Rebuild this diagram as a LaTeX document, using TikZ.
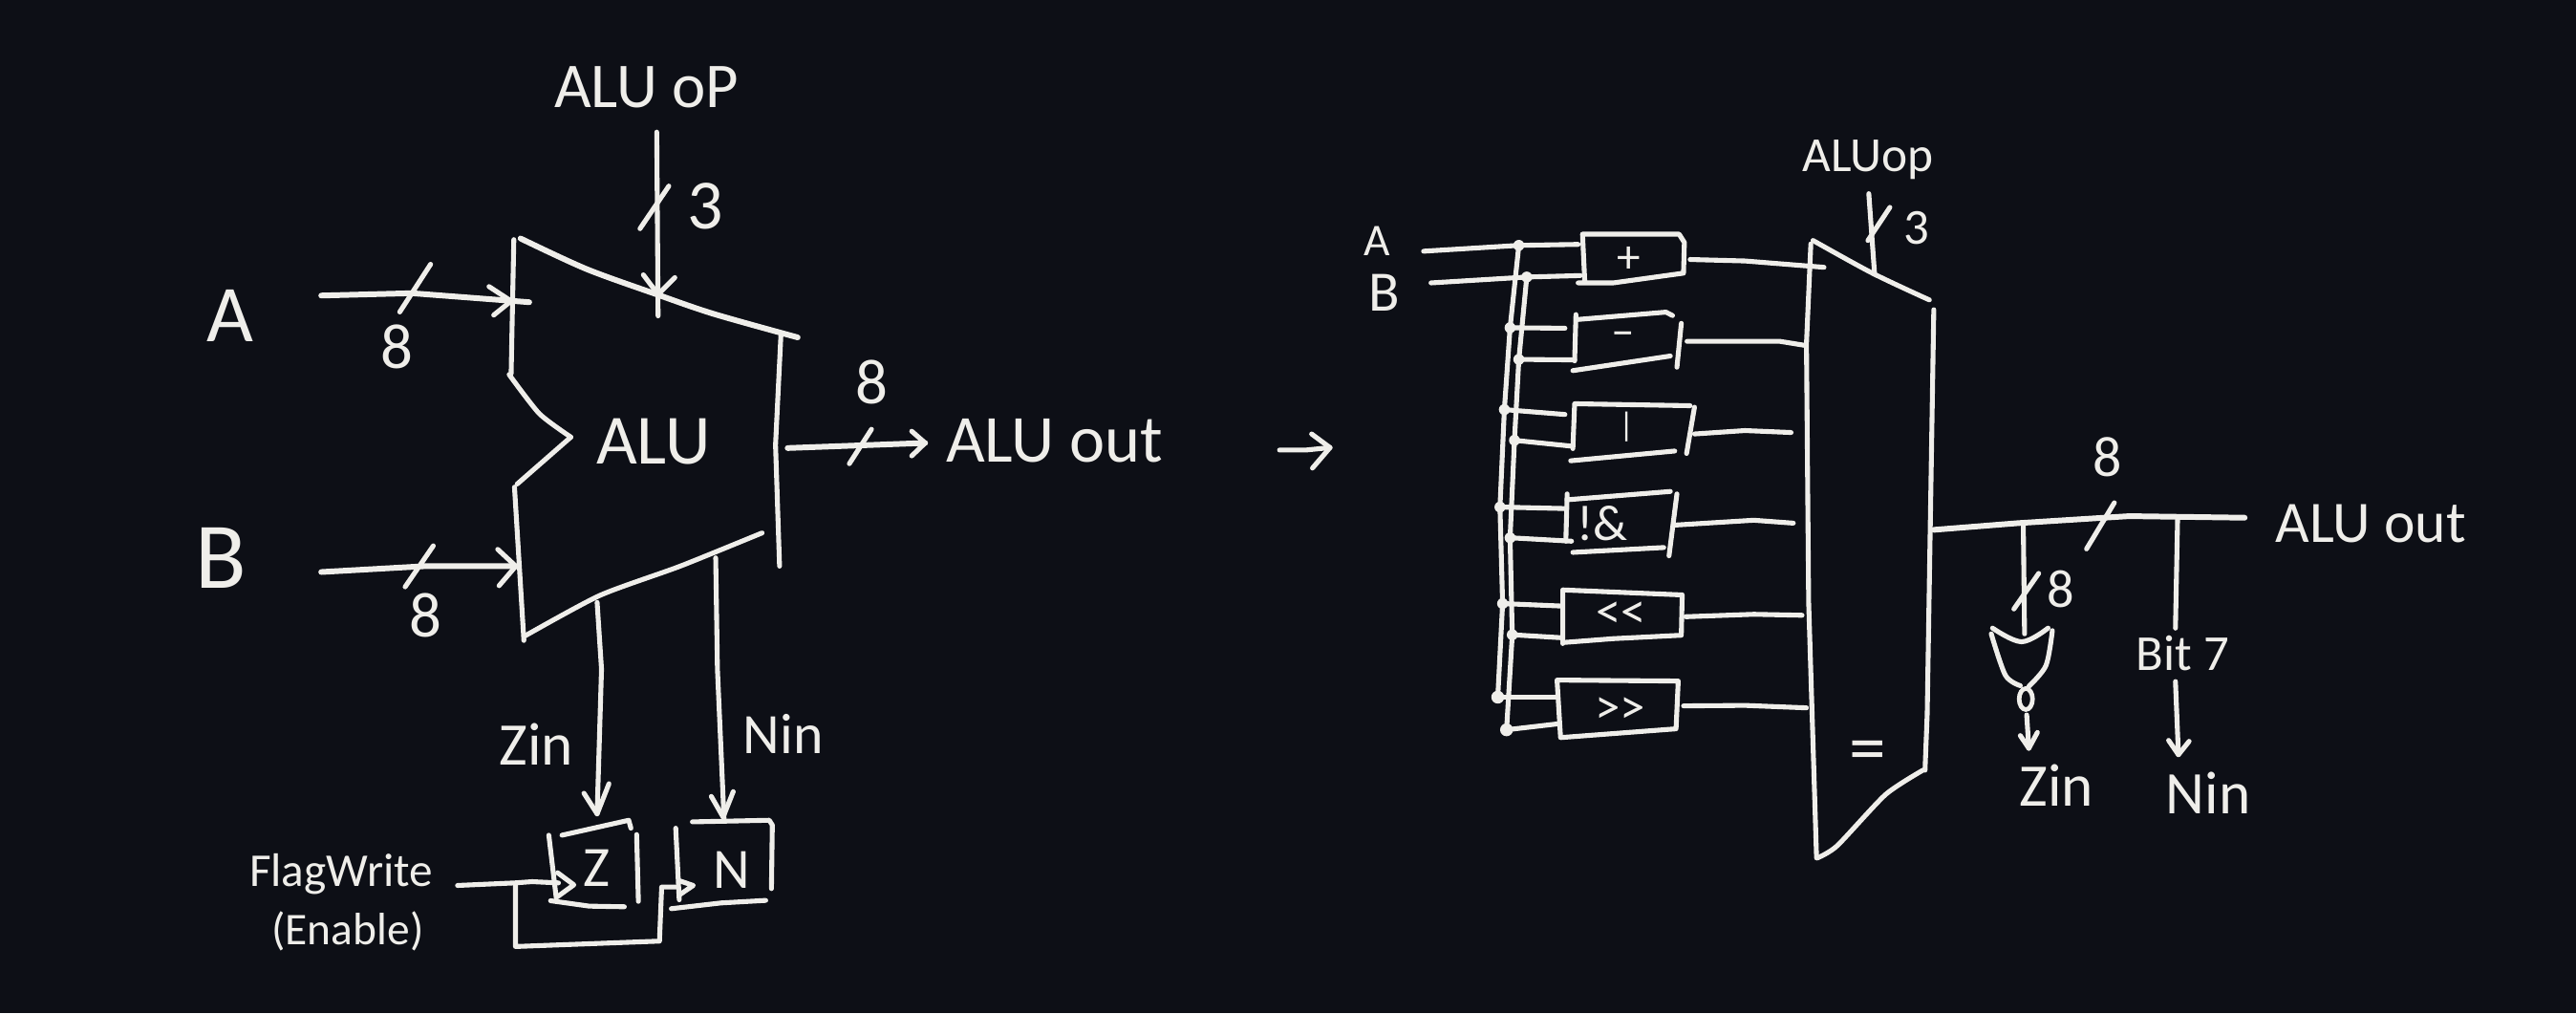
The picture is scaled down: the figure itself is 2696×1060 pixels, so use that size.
\documentclass[tikz,border=0pt]{standalone}
\usepackage{fontspec}
\usetikzlibrary{shapes.geometric}
\setmainfont{Carlito}
\definecolor{bg}{HTML}{0D0F16}
\definecolor{ink}{HTML}{EFEEEA}
\tikzset{
  pen/.style={draw=ink,line width=1.45pt,line cap=round,line join=round},
  lab/.style={text=ink,inner sep=0pt,font=\fontsize{#1}{#1}\selectfont},
  busdot/.style={circle,fill=ink,inner sep=0pt,minimum size=0.115cm},
  cropA/.style={shift={(1.5cm,-0.4cm)},x=0.007015cm,y=-0.004082cm},
  cropB/.style={shift={(1.8cm,-6cm)},x=0.004591cm,y=-0.003333cm},
  cropC/.style={shift={(13.2cm,-1.2cm)},x=0.004592cm,y=-0.005102cm},
  cropD/.style={shift={(19.5cm,-4.2cm)},x=0.004464cm,y=-0.003333cm}
}
\begin{document}
\begin{tikzpicture}[x=0.01cm,y=-0.01cm]
\useasboundingbox (0,0) rectangle (2696,1060);
\fill[bg] (0,0) rectangle (2696,1060);

% ---------- left ALU ----------
\begin{scope}[cropA]
\node[lab=24] (tA) at (130,710) {A};
\node[lab=28] (tB) at (115,1330) {B};
\node[lab=19] (t8a) at (378,790) {8};
\node[lab=19] (t8b) at (420,1475) {8};
\node[lab=19] (t8c) at (1085,880) {8};
\node[lab=19] (tOp) at (750,125) {ALU oP};
\node[lab=21] (t3) at (838,430) {3};
\node[lab=21] (tALU) at (760,1032) {ALU};
\node[lab=20] (tOut) at (1358,1030) {ALU out};
% body
\draw[pen] (552,515) -- (548,858);
\draw[pen] plot[smooth,tension=.4] coordinates {(545,860) (590,960) (637,1020)};
\draw[pen] (637,1020) -- (557,1140);
\draw[pen] (553,1148) -- (567,1540);
\draw[pen] plot[smooth,tension=.4] coordinates {(567,1530) (680,1425) (800,1350) (922,1265)};
\draw[pen,line width=1.7pt] plot[smooth,tension=.5] coordinates {(562,512) (660,590) (765,655) (850,705) (975,765)};
\draw[pen] (950,760) -- (942,1040) -- (948,1350);
% A input
\coordinate (aS) at (265,658); \coordinate (aE) at (575,675);
\draw[pen,line width=1.7pt] (aS) -- (400,652) -- (aE);
\draw[pen] (515,635) -- (548,672) -- (522,708);
\draw[pen] (428,578) -- (382,700);
% B input
\coordinate (bS) at (265,1365); \coordinate (bE) at (555,1350);
\draw[pen,line width=1.7pt] (bS) -- (420,1350) -- (bE);
\draw[pen] (528,1307) -- (555,1350) -- (530,1400);
\draw[pen] (432,1298) -- (390,1403);
% op
\coordinate (opS) at (765,240); \coordinate (opE) at (767,710);
\draw[pen] (opS) -- (opE);
\draw[pen] (745,605) -- (767,655) -- (792,612);
\draw[pen] (783,378) -- (740,487);
% out
\coordinate (oS) at (960,1048); \coordinate (oE) at (1165,1035);
\draw[pen,line width=1.7pt] (oS) -- (oE);
\draw[pen] (1145,1005) -- (oE) -- (1145,1068);
\draw[pen] (1085,1000) -- (1052,1088);
\end{scope}

% ---------- flag registers ----------
\begin{scope}[cropB]
\node[lab=18] (tZ) at (830,535) {Zin};
\node[lab=17] (tN) at (1392,505) {Nin};
\node[lab=14] (tFW) at (385,945) {FlagWrite};
\node[lab=13.5] (tEn) at (400,1125) {(Enable)};
\node[lab=17] (rZ) at (968,925) {Z};
\node[lab=17] (rN) at (1275,930) {N};
% Z in
\coordinate (zS) at (968,90); \coordinate (zE) at (968,755);
\draw[pen] (zS) -- (978,300) -- (zE);
\draw[pen] (938,690) -- (zE) -- (995,660);
% N in
\coordinate (nS) at (1238,-50); \coordinate (nE) at (1257,770);
\draw[pen] (nS) -- (1242,300) -- (nE);
\draw[pen] (1228,700) -- (1255,765) -- (1278,685);
% Z box
\draw[pen] (858,822) -- (875,1020);
\draw[pen] (888,822) -- (1040,775) -- (1045,800);
\draw[pen] (1058,820) -- (1062,1030);
\draw[pen] (862,1028) -- (950,1045) -- (1030,1047);
\draw[pen] (878,940) -- (915,978) -- (878,1015);
% N box
\draw[pen] (1147,800) -- (1155,1025);
\draw[pen] (1185,780) -- (1360,775) -- (1367,790) -- (1365,990);
\draw[pen] (1137,1053) -- (1250,1035) -- (1352,1027);
\draw[pen] (1155,965) -- (1187,980) -- (1155,1010);
% enable wiring
\coordinate (fS) at (650,980); \coordinate (fZ) at (880,972); \coordinate (fN) at (1150,985);
\draw[pen] (fS) -- (780,972) -- (820,968) -- (fZ);
\draw[pen] (782,975) -- (782,1172) -- (1110,1155) -- (1115,985) -- (fN);
\end{scope}

% ---------- right: operations ----------
\begin{scope}[cropC]
\node[lab=13.5] (rA) at (262,260) {A};
\node[lab=17] (rB) at (278,365) {B};
\node[lab=14.6] (rOp) at (1380,92) {ALUop};
\node[lab=15] (r3) at (1490,233) {3};
\node[lab=14] (fAdd) at (835,298) {+};
\node[lab=14] (fSub) at (822,460) {–};
\node[lab=10] (fOr) at (830,640) {|};
\node[lab=15] (fNand) at (775,838) {!\&};
\node[lab=15] (fShl) at (818,1027) {{<}{<}};
\node[lab=15] (fShr) at (815,1222) {{>}{>}};
\node[lab=22] (tEq) at (1380,1318) {=};
% arrow
\coordinate (arS) at (40,688); \coordinate (arE) at (155,683);
\draw[pen] (arS) -- (100,688) -- (arE);
\draw[pen] (113,655) -- (arE) -- (115,725);
% bus dots
\node[busdot] (a1) at (585,268) {};
\node[busdot] (a2) at (565,437) {};
\node[busdot] (a3) at (552,605) {};
\node[busdot] (a4) at (542,805) {};
\node[busdot] (a5) at (548,1003) {};
\node[busdot,minimum size=0.135cm] (a6) at (537,1195) {};
\node[busdot] (b1) at (603,333) {};
\node[busdot] (b2) at (585,502) {};
\node[busdot] (b3) at (575,668) {};
\node[busdot] (b4) at (565,868) {};
\node[busdot] (b5) at (570,1067) {};
\node[busdot,minimum size=0.135cm] (b6) at (557,1262) {};
\draw[pen] (a1.center) -- (a2.center) -- (a3.center) -- (a4.center) -- (a5.center) -- (a6.center);
\draw[pen] (b1.center) -- (b2.center) -- (b3.center) -- (b4.center) -- (b5.center) -- (b6.center);
% input wires
\coordinate (iA) at (368,280); \coordinate (iB) at (385,345);
\coordinate (p1a) at (720,266); \coordinate (p1b) at (725,330);
\coordinate (p2a) at (690,438); \coordinate (p2b) at (712,503);
\coordinate (p3a) at (690,615); \coordinate (p3b) at (705,680);
\coordinate (p4a) at (688,808); \coordinate (p4b) at (705,875);
\coordinate (p5a) at (680,1008); \coordinate (p5b) at (680,1073);
\coordinate (p6a) at (672,1195); \coordinate (p6b) at (672,1250);
\draw[pen] (iA) -- (a1.center) -- (p1a);
\draw[pen] (iB) -- (b1.center) -- (p1b);
\draw[pen] (a2.center) -- (p2a); \draw[pen] (b2.center) -- (p2b);
\draw[pen] (a3.center) -- (p3a); \draw[pen] (b3.center) -- (p3b);
\draw[pen] (a4.center) -- (p4a); \draw[pen] (b4.center) -- (p4b);
\draw[pen] (a5.center) -- (p5a); \draw[pen] (b5.center) -- (p5b);
\draw[pen] (a6.center) -- (p6a); \draw[pen] (b6.center) -- (p6b);
% boxes
\draw[pen] (735,340) -- (730,245) -- (950,245) -- (962,262) -- (960,325) -- (800,345) -- (720,345);
\draw[pen] (715,410) -- (712,505);
\draw[pen] (720,420) -- (920,405) -- (935,412);
\draw[pen] (955,428) -- (945,518);
\draw[pen] (708,525) -- (930,495);
\draw[pen] (708,685) -- (712,593) -- (975,597);
\draw[pen] (985,600) -- (967,695);
\draw[pen] (703,710) -- (940,690);
\draw[pen] (692,875) -- (695,778);
\draw[pen] (695,790) -- (930,773);
\draw[pen] (945,778) -- (927,905);
\draw[pen] (708,898) -- (915,888);
\draw[pen] (685,1085) -- (685,975) -- (950,985) -- (957,985) -- (955,1068) -- (800,1075) -- (685,1083);
\draw[pen] (680,1278) -- (672,1160) -- (948,1162) -- (943,1260) -- cycle;
% outputs
\coordinate (q1) at (975,297); \coordinate (r1) at (1280,313);
\coordinate (q2) at (968,465); \coordinate (r2) at (1235,473);
\coordinate (q3) at (985,655); \coordinate (r3e) at (1205,652);
\coordinate (q4) at (940,842); \coordinate (r4) at (1210,838);
\coordinate (q5) at (965,1030); \coordinate (r5) at (1230,1027);
\coordinate (q6) at (960,1213); \coordinate (r6) at (1240,1217);
\draw[pen] (q1) -- (1100,300) -- (r1);
\draw[pen] (q2) -- (1180,465) -- (r2);
\draw[pen] (q3) -- (1100,648) -- (r3e);
\draw[pen] (q4) -- (1120,832) -- (r4);
\draw[pen] (q5) -- (1120,1025) -- (r5);
\draw[pen] (q6) -- (1100,1212) -- (r6);
% mux
\draw[pen] (1250,265) -- (1240,470) -- (1245,1000) -- (1263,1525);
\draw[pen] plot[smooth,tension=.4] coordinates {(1265,1525) (1310,1500) (1420,1395) (1505,1345)};
\draw[pen] (1510,1345) -- (1515,1230) -- (1530,400);
\draw[pen] plot[smooth,tension=.5] coordinates {(1255,258) (1390,325) (1520,380)};
\coordinate (mS) at (1382,162); \coordinate (mE) at (1395,325);
\draw[pen] (mS) -- (mE);
\draw[pen] (1430,190) -- (1380,258);
\end{scope}

% ---------- right: output ----------
\begin{scope}[cropD]
\node[lab=17] (r8a) at (568,175) {8};
\node[lab=17.5] (rOut) at (1185,385) {ALU out};
\node[lab=16] (r8b) at (460,590) {8};
\node[lab=15] (rBit) at (745,790) {Bit 7};
\node[lab=18] (rZin) at (450,1205) {Zin};
\node[lab=18] (rNin) at (805,1230) {Nin};
\coordinate (wS) at (163,403); \coordinate (wE) at (890,365);
\draw[pen,line width=1.7pt] (wS) -- (360,382) -- (620,360) -- (wE);
\draw[pen] (585,318) -- (520,463);
\coordinate (j1) at (372,385); \coordinate (j1e) at (375,730);
\draw[pen] (j1) -- (j1e);
\draw[pen] (408,540) -- (350,652);
\coordinate (j2) at (733,370); \coordinate (j2e) at (728,712);
\draw[pen] (j2) -- (j2e);
\coordinate (k1) at (728,880); \coordinate (k2) at (735,1110);
\draw[pen] (k1) -- (k2);
\draw[pen] (712,1065) -- (k2) -- (760,1068);
% NOR gate
\draw[pen] plot[smooth,tension=.6] coordinates {(300,712) (368,755) (430,712)};
\draw[pen] plot[smooth,tension=.5] coordinates {(297,730) (330,860) (365,893)};
\draw[pen] plot[smooth,tension=.5] coordinates {(440,720) (425,830) (385,895)};
\node[draw=ink,line width=1.35pt,ellipse,inner sep=0pt,minimum width=0.14cm,minimum height=0.22cm] (bub) at (378,935) {};
\coordinate (g1) at (380,985); \coordinate (g2) at (385,1090);
\draw[pen] (g1) -- (g2);
\draw[pen] (365,1050) -- (g2) -- (405,1040);
\end{scope}
\end{tikzpicture}
\end{document}
